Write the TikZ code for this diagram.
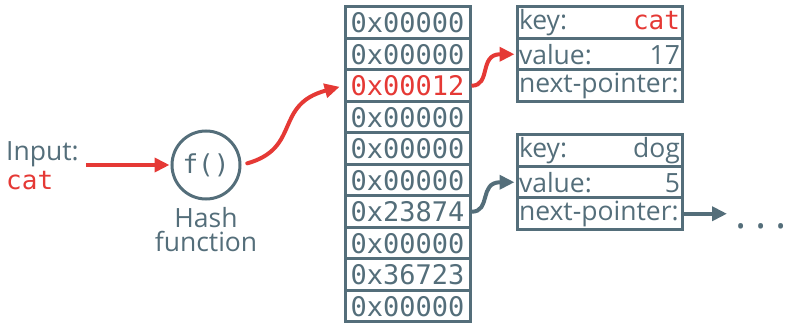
\documentclass[tikz,border=0pt]{standalone}
\usepackage{fontspec}
\setmainfont{Open Sans}
\newfontfamily\monofam{DejaVu Sans Mono}
\usetikzlibrary{arrows.meta}
\definecolor{gc}{HTML}{546E7A}
\definecolor{rc}{HTML}{E53935}
\newcommand{\sansf}{\fontsize{26.5}{24}\selectfont}
\newcommand{\monof}{\monofam\fontsize{27}{27}\selectfont}
\newcommand{\monos}{\monofam\fontsize{26}{26}\selectfont}
\tikzset{
  cell/.style={draw=gc, line width=3pt, minimum width=125pt, minimum height=31.5pt, inner sep=0pt, font=\monof},
  rec/.style={draw=gc, line width=3pt, minimum width=165pt, minimum height=31.5pt, text width=161pt, inner sep=2pt, font=\sansf, text=gc, align=left},
  tip/.style={-{Triangle[length=15pt,width=14pt]}},
  redarr/.style={tip, draw=rc, line width=4pt},
  grayarr/.style={tip, draw=gc, line width=4pt},
}
\begin{document}
\begin{tikzpicture}[x=1pt,y=-1pt]
\useasboundingbox (0,0) rectangle (788,323);
% table
\foreach \v/\c [count=\i] in {0x00000/gc,0x00000/gc,0x00012/rc,0x00000/gc,0x00000/gc,0x00000/gc,0x23874/gc,0x00000/gc,0x36723/gc,0x00000/gc}{
  \node[cell, text=\c] (c\i) at (407.5,{7+31.5*(\i-0.5)}) {\v};
}
% records
\node[rec] (r1k) at (599.5,22.75) {key:\hfill{\monos\color{rc}cat}};
\node[rec] (r1v) at (599.5,54.25) {value:\hfill 17};
\node[rec] (r1n) at (599.5,85.75) {next-pointer:};
\node[rec] (r2k) at (599.5,150.75) {key:\hfill dog};
\node[rec] (r2v) at (599.5,182.25) {value:\hfill 5};
\node[rec] (r2n) at (599.5,213.75) {next-pointer:};
% hash function
\node[circle, draw=gc, line width=3pt, minimum size=68pt, inner sep=0pt, font=\monos, text=gc] (hash) at (206,165) {f()};
\node[font=\sansf, text=gc, align=center, anchor=north, inner sep=0pt] (hlabel) at (206,207) {Hash\\function};
% input
\node[font=\fontsize{26.5}{29}\selectfont, text=gc, align=left, anchor=north west, inner sep=0pt] (inp) at (6,141) {Input:\\{\monos\color{rc}cat}};
% connectors
\draw[redarr, shorten <=7pt, shorten >=1pt] (inp.east |- hash.west) -- (hash.west);
\draw[redarr, line cap=round, shorten <=6pt, shorten >=4pt] (hash.east) .. controls +(60,-17) and +(-70,19) .. (c3.west);
\draw[redarr, shorten >=1pt] (c3.east) .. controls +(20,0) and +(-37,0) .. (r1v.west);
\draw[grayarr, shorten >=1pt] (c7.east) .. controls +(20,0) and +(-37,0) .. (r2v.west);
\coordinate (nxt) at (727,213.75);
\draw[grayarr] (r2n.east) -- (nxt);
\node[font=\fontsize{42}{42}\selectfont, text=gc, anchor=base east, inner sep=0pt] (dots) at (787,229) {.\hspace{9pt}.\hspace{9pt}.};
\end{tikzpicture}
\end{document}
